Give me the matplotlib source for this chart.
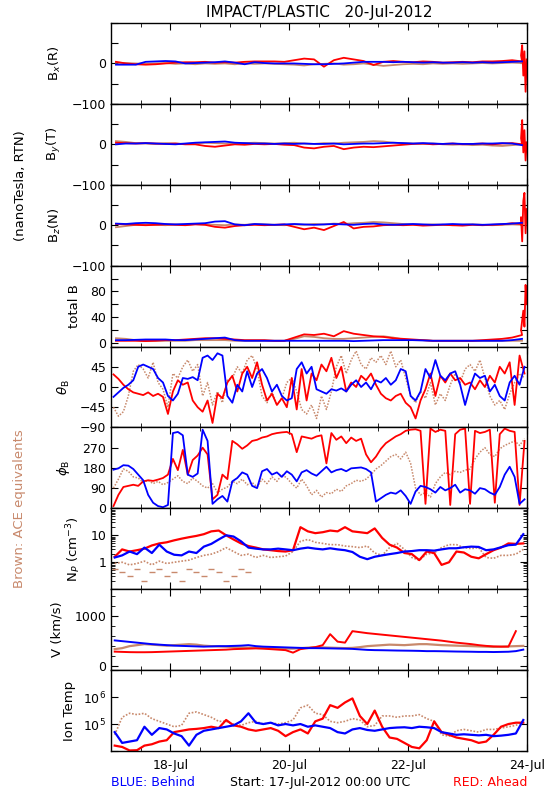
import numpy as np
import matplotlib
matplotlib.use("Agg")
import matplotlib.pyplot as plt
from matplotlib.ticker import FixedLocator, MultipleLocator, LogLocator, NullFormatter, NullLocator

RED = "#ff0000"
BLUE = "#0000ff"
BROWN = "#c8896c"

# x axis: days since 17-Jul-2012 00:00 UTC
day_ticks = [1, 3, 5, 7]
day_labels = ["18-Jul", "20-Jul", "22-Jul", "24-Jul"]

# ---- magnetic field, 4-hour samples (nT), one row per day ----
bx_red = [4, 0, -2, -3, -2, 0,
          2, 3, 3, 4, 2, 3,
          2, 4, 5, 5, 5, 4,
          8, 12, 10, -8, 8, 14,
          10, 6, -4, 4, 6, 4,
          3, 5, 4, 2, 3, 4,
          3, 5, 5, 6, 8, 5]
bx_red_tail = [20, 45, -30, 30, -70, 10]
bx_blue = [-3, -3, -3, 4, 5, 6,
           5, 0, 1, 2, 3, 5,
           2, -2, 3, 1, 0, 0,
           0, -1, -2, -2, -1, 0,
           2, 4, 4, 4, 3, 4,
           3, 2, 3, 2, 2, 3,
           2, 3, 2, 3, 4, 5]
bx_brown = [2, 1, 0, -1, 0, 1,
            -1, 0, -2, 0, -1, 0,
            -2, 0, -1, 0, -1, -2,
            -3, -5, -2, -1, 0, -3,
            -2, 0, -3, -6, -4, -2,
            -1, -2, 0, -1, 0, -1,
            0, 1, 0, 1, 2, 1]

by_red = [4, 3, 2, 3, 2, 1,
          2, 0, 0, -4, -6, -3,
          0, -1, 1, 0, 1, -1,
          -2, -8, -10, -6, -4, -12,
          -8, -6, -7, -5, -3, -1,
          1, 2, 0, 1, 2, 0,
          1, 2, 0, 2, 3, 0]
by_red_tail = [15, 60, -20, 35, -40, 5]
by_blue = [0, 2, 2, 3, 2, 1,
           0, 2, 4, 5, 6, 7,
           4, 3, 2, 2, 1, 2,
           1, 2, 1, 1, 2, 0,
           1, 2, 2, 3, 4, 3,
           2, 3, 2, 1, 2, 1,
           1, 2, 2, 3, 2, -2]
by_brown = [8, 6, 3, 2, 1, 3,
            2, 1, 2, 4, 3, 2,
            1, 3, 4, 3, 2, 3,
            4, 2, 1, 3, 2, 4,
            5, 6, 8, 7, 4, 3,
            2, 1, 2, 0, -1, 0,
            -2, -1, -3, -4, -2, 0]

bz_red = [3, 2, 1, 0, 1, 2,
          1, 0, 2, 1, -4, -6,
          -2, 0, 1, 0, 1, 2,
          -4, -10, -6, -12, -2, 8,
          -8, -4, -3, 0, 1, 0,
          1, -1, 0, 1, 0, -1,
          1, 0, 1, 2, 5, 3]
bz_red_tail = [20, -40, 60, 80, -20, 40]
bz_blue = [4, 3, 5, 6, 5, 3,
           2, 3, 4, 5, 9, 10,
           2, 0, 3, 2, 1, 2,
           3, 2, 1, 2, 3, 2,
           1, 3, 4, 2, 1, 2,
           3, 2, 1, 2, 3, 2,
           2, 1, 2, 3, 4, 6]
bz_brown = [-5, -2, 1, 2, 1, 0,
            2, 1, 3, 2, 1, 0,
            2, 1, 3, 2, 1, 0,
            2, 1, 3, 2, 4, 3,
            5, 6, 8, 7, 5, 3,
            2, 1, 2, 1, 0, 1,
            2, 1, 0, 1, 2, 1]

btot_red = [3, 3, 3, 2.5, 3, 4,
            4, 5, 6, 7, 7, 6,
            5, 4, 4, 4, 3, 3,
            8, 13, 12, 14, 10, 18,
            14, 12, 10, 9, 7, 6,
            5, 4, 3, 3, 3, 3,
            3, 4, 5, 6, 8, 12]
btot_red_tail = [20, 35, 50, 25, 90, 60]
btot_blue = [4, 4, 4.5, 5, 5, 5,
             4, 4, 5, 6, 7, 8,
             4, 3, 3, 3, 3, 3,
             3, 3, 3, 3, 3, 3,
             2.5, 3, 3.5, 4, 4, 4,
             4, 3.5, 3, 3, 3, 3,
             3, 3, 3, 3, 4, 6]
btot_brown = [7, 6, 4, 3, 3, 3,
              3, 3, 4, 4, 4, 4,
              3, 3, 3, 3, 3, 3,
              6, 10, 9, 7, 6, 6,
              7, 8, 9, 10, 8, 5,
              4, 4, 3, 3, 3, 3,
              3, 3, 3, 3, 3, 3]

# ---- field angles, 2-hour samples (deg), one row per day ----
theta_red = [28, 18, 5, -5, -12, -15, -18, -12, -20, -15, -22, -60,
             -10, 15, 5, 10, -30, -45, -55, -30, -80, -15, -25, 10,
             25, -10, 30, 45, 20, 55, 5, -30, -15, -40, -25, -45,
             20, -50, 40, -30, 30, 15, 50, 35, 65, 20, 45, -10,
             10, 0, 25, 15, 30, 5, -15, -25, -30, -20, -15, -35,
             -45, -70, -30, -5, 30, -20, 25, 10, 30, 15, 20, 5,
             10, -5, 15, 0, 25, 10, 45, 30, 55, -40, 70, 30]
theta_blue = [-22, -12, -2, 5, 15, 45, 50, 45, 40, 20, 10, -20,
              -30, -15, 20, 18, 22, 15, 65, 70, 60, 75, 70, -20,
              -35, 5, -10, 35, 0, 30, 40, 20, -10, 5, -20, -30,
              -25, 40, 55, 30, 45, -5, -10, -15, -5, -8, -3, -10,
              5, 15, 0, 10, -5, 15, 10, 20, 5, 15, 40, 35,
              -20, -30, -10, 40, 20, 60, 25, 15, 30, 35, 5, -40,
              0, 30, 20, 25, -10, 5, -20, -30, 10, 25, 5, 45]
theta_brown = [-45, -65, -55, -20, 35, 50, 40, 20, 55, 10, -5, -45,
               30, 20, 45, 60, 35, 50, -20, 10, -40, -10, -35, 15,
               20, 45, 30, 60, 70, 40, -20, -35, -10, -40, -25, 10,
               20, -10, -50, -60, -40, -70, -20, -50, -10, 45, 70, 30,
               60, 80, 50, 40, 65, 55, 70, 50, 80, 45, 60, 20,
               -20, -35, -10, -25, 10, -40, -15, -30, 5, 30, 10, 40,
               50, 35, 60, 20, -20, -40, -30, -50, -15, 10, 30, 20]

phi_red = [10, 60, 95, 100, 105, 100, 120, 125, 122, 128, 135, 150,
           220, 170, 260, 150, 215, 235, 270, 240, 40, 60, 150, 130,
           300, 285, 265, 280, 300, 305, 315, 320, 330, 335, 338, 340,
           330, 250, 320, 315, 310, 320, 325, 200, 335, 305, 320, 290,
           315, 300, 310, 240, 205, 230, 265, 290, 305, 320, 330, 345,
           350, 352, 345, 20, 355, 340, 350, 345, 15, 330, 350, 355,
           20, 345, 335, 340, 350, 25, 330, 355, 345, 340, 15, 300]
phi_blue = [172, 178, 192, 190, 175, 150, 125, 60, 25, 10, 5, 15,
            335, 340, 325, 150, 140, 155, 350, 300, 20, 40, 55, 30,
            120, 135, 160, 150, 100, 90, 165, 175, 150, 160, 140, 165,
            150, 120, 160, 170, 155, 145, 165, 185, 160, 170, 175, 165,
            178, 180, 182, 175, 160, 30, 45, 60, 70, 65, 80, 55,
            20, 75, 100, 95, 85, 70, 95, 80, 90, 105, 70, 85,
            80, 65, 90, 85, 70, 60, 95, 150, 185, 140, 20, 40]
phi_brown = [90, 130, 175, 165, 140, 135, 115, 125, 110, 120, 105, 115,
             130, 145, 120, 110, 135, 120, 100, 90, 110, 70, 85, 95,
             120, 110, 130, 105, 115, 95, 130, 110, 140, 120, 150, 135,
             110, 90, 130, 100, 60, 80, 50, 70, 65, 85, 75, 100,
             110, 125, 120, 130, 150, 175, 190, 210, 230, 240, 220, 250,
             200, 90, 60, 70, 50, 110, 140, 160, 150, 165, 160, 170,
             175, 220, 250, 270, 240, 230, 265, 280, 290, 300, 280, 310]

# ---- plasma, 3-hour samples, one row per day ----
np_red = [1.6, 3.0, 2.5, 2.8, 3.2, 4.2, 5.0, 5.5,
          6.5, 7.5, 8.5, 9.5, 11, 14, 15, 10,
          7, 5, 4, 3.5, 3, 2.8, 2.6, 2.5,
          2.8, 20, 14, 12, 13, 15, 14, 20,
          14, 13, 12, 18, 8, 4.5, 3.5, 2.2,
          2.0, 1.2, 2.5, 2.2, 0.8, 1.0, 2.5, 2.3,
          1.6, 1.4, 2.0, 2.8, 3.5, 5.0, 4.8, 5.0]
np_blue = [1.5, 1.8, 2.5, 2.0, 3.5, 2.2, 4.5, 2.5,
           1.9, 1.8, 2.5, 2.2, 3.8, 4.8, 7, 10,
           9, 6, 3.5, 3.2, 3.0, 3.0, 3.2, 3.0,
           2.8, 3.2, 3.5, 3.2, 3.0, 3.3, 3.0, 2.8,
           2.4, 1.6, 1.3, 1.6, 1.8, 2.0, 2.2, 2.5,
           2.6, 2.8, 2.8, 2.7, 3.0, 3.3, 3.3, 3.6,
           3.8, 3.7, 2.8, 3.0, 3.6, 4.3, 4.5, 11]
np_brown = [0.9, 1.0, 0.8, 0.9, 1.1, 0.8, 1.1, 0.9,
            1.0, 1.1, 1.2, 1.5, 1.8, 2.0, 2.5, 3.5,
            2.5, 1.8, 2.0, 1.5, 1.8, 1.5, 1.6, 1.7,
            2.5, 6, 7, 5.5, 5, 4.5, 4.5, 4.0,
            3.8, 3.5, 4.0, 2.2, 1.8, 3.5, 5, 3,
            1.5, 1.2, 2.0, 2.2, 3.5, 4.5, 4.5, 3.5,
            3.2, 3.5, 1.5, 1.4, 1.8, 1.8, 2.0, 3.0]
np_brown_low = [0.56, 0.43, 0.31, 0.56, 0.2, 0.43, 0.56, 0.31, 0.43, 0.2,
                0.56, 0.43, 0.31, 0.56, 0.43, 0.2, 0.31, 0.56, 0.43]

v_red = [290, 285, 280, 278, 278, 280, 285, 290,
         295, 300, 305, 310, 315, 320, 325, 330,
         340, 345, 350, 355, 350, 340, 330, 320,
         270, 340, 360, 380, 420, 640, 490, 470,
         700, 680, 660, 645, 630, 615, 600, 585,
         570, 555, 540, 525, 510, 490, 470, 455,
         440, 420, 405, 395, 390, 390, 700, np.nan]
v_blue = [515, 500, 485, 470, 455, 440, 430, 420,
          410, 405, 400, 395, 390, 395, 400, 400,
          405, 410, 420, 400, 390, 385, 380, 375,
          370, 365, 360, 360, 358, 355, 352, 350,
          345, 335, 325, 320, 318, 315, 312, 310,
          308, 305, 300, 300, 298, 295, 292, 290,
          288, 285, 285, 282, 285, 288, 300, 330]
v_brown = [340, 360, 400, 420, 440, 430, 420, 410,
           420, 430, 440, 430, 410, 400, 395, 390,
           380, 375, 370, 365, 360, 360, 355, 350,
           350, 360, 370, 380, 375, 370, 365, 360,
           365, 380, 400, 410, 420, 430, 425, 420,
           430, 440, 440, 430, 420, 415, 410, 405,
           400, 395, 390, 385, 390, 395, 400, 405]

# ion temperature, log10(K)
temp_red_log = [4.2, 4.15, 4.02, 4.03, 4.2, 4.25, 4.35, 4.4,
                4.7, 4.75, 4.8, 4.82, 4.85, 4.9, 4.85, 5.15,
                4.95, 4.9, 4.8, 4.75, 4.8, 4.85, 4.75, 4.55,
                4.7, 4.8, 4.65, 5.1, 5.2, 5.7, 5.6, 5.8,
                5.95, 5.3, 5.0, 5.5, 4.9, 4.5, 4.45, 4.3,
                4.15, 4.1, 4.4, 5.1, 4.7, 4.6, 4.5, 4.45,
                4.4, 4.3, 4.35, 4.6, 4.9, 5.0, 5.05, 5.05]
temp_blue_log = [4.7, 4.3, 4.35, 4.4, 4.9, 4.6, 4.85, 4.8,
                 4.65, 4.55, 4.2, 4.6, 4.75, 4.8, 4.85, 4.9,
                 4.95, 5.1, 5.4, 5.05, 5.0, 5.05, 4.95, 5.0,
                 4.95, 5.0, 4.9, 4.95, 4.9, 4.85, 4.7, 4.65,
                 4.8, 4.85, 4.78, 4.75, 4.8, 4.85, 4.87, 4.88,
                 4.85, 4.9, 4.88, 4.85, 4.7, 4.65, 4.6, 4.62,
                 4.6, 4.58, 4.6, 4.55, 4.57, 4.6, 4.65, 5.15]
temp_brown_log = [4.6, 5.25, 5.4, 5.35, 5.4, 5.2, 5.1, 5.0,
                  4.9, 4.95, 5.4, 5.45, 5.35, 5.25, 5.1, 5.1,
                  5.0, 4.95, 5.05, 5.1, 5.0, 5.05, 5.0, 5.05,
                  5.15, 5.6, 5.7, 5.4, 5.35, 5.1, 5.05, 5.1,
                  5.2, 5.15, 4.9, 4.95, 5.3, 5.3, 5.25, 5.3,
                  5.3, 5.35, 5.2, 5.1, 4.6, 4.55, 4.75, 4.8,
                  4.75, 4.7, 4.8, 4.8, 4.85, 4.9, 4.95, 5.1]

# sample times (days)
t_2h = (np.arange(84) + 0.5) / 12
t_3h = (np.arange(56) + 0.5) / 8
t_4h = (np.arange(42) + 0.5) / 6
t_tail = np.linspace(6.90, 6.995, 6)

plt.rcParams["font.family"] = ["DejaVu Sans"]
plt.rcParams["mathtext.fontset"] = "dejavusans"
plt.rcParams["axes.linewidth"] = 1.0

fig, axes = plt.subplots(9, 1, figsize=(5.5, 8), dpi=100, sharex=True,
                         gridspec_kw=dict(hspace=0))
fig.subplots_adjust(left=111 / 550, right=527 / 550, top=1 - 23 / 800, bottom=1 - 751 / 800)
ax_bx, ax_by, ax_bz, ax_bt, ax_th, ax_ph, ax_np, ax_v, ax_t = axes

M = "\u2212"

# field components
for ax, brown, red, tail, blue in [(ax_bx, bx_brown, bx_red, bx_red_tail, bx_blue),
                                   (ax_by, by_brown, by_red, by_red_tail, by_blue),
                                   (ax_bz, bz_brown, bz_red, bz_red_tail, bz_blue)]:
    ax.plot(t_4h, brown, color=BROWN, lw=1.3)
    ax.plot(np.r_[t_4h, t_tail], np.r_[red, tail], color=RED, lw=1.3)
    ax.plot(t_4h, blue, color=BLUE, lw=1.3)
    ax.set_ylim(-100, 100)
    ax.set_yticks([-100, -50, 0, 50, 100], labels=[M + "100", "", "0", "", ""])

ax_bt.plot(t_4h, btot_brown, color=BROWN, lw=1.3)
ax_bt.plot(np.r_[t_4h, t_tail], np.r_[btot_red, btot_red_tail], color=RED, lw=1.3)
ax_bt.plot(t_4h, btot_blue, color=BLUE, lw=1.3)
ax_bt.set_ylim(-6, 120)
ax_bt.set_yticks([0, 20, 40, 60, 80, 100, 120], labels=["0", "", "40", "", "80", "", ""])

# angles
ax_th.plot(t_2h, theta_brown, color=BROWN, lw=1.1, ls=(0, (1, 1)))
ax_th.plot(t_2h, theta_red, color=RED, lw=1.3)
ax_th.plot(t_2h, theta_blue, color=BLUE, lw=1.3)
ax_th.set_ylim(-90, 90)
ax_th.set_yticks([-90, -45, 0, 45, 90], labels=[M + "90", M + "45", "0", "45", ""])

ax_ph.plot(t_2h, phi_brown, color=BROWN, lw=1.1, ls=(0, (1, 1)))
ax_ph.plot(t_2h, phi_red, color=RED, lw=1.3)
ax_ph.plot(t_2h, phi_blue, color=BLUE, lw=1.3)
ax_ph.set_ylim(0, 360)
ax_ph.set_yticks([0, 90, 180, 270, 360], labels=["0", "90", "180", "270", ""])

# density
ax_np.plot(t_3h, np_brown, color=BROWN, lw=1.2, ls=(0, (1, 1)))
ax_np.plot(t_3h[:len(np_brown_low)], np_brown_low, color=BROWN, ls="none",
           marker="_", ms=5, mew=1)
ax_np.plot(t_3h, np_red, color=RED, lw=1.6)
ax_np.plot(t_3h, np_blue, color=BLUE, lw=1.6)
ax_np.set_yscale("log")
ax_np.set_ylim(0.1, 100)
ax_np.set_yticks([0.1, 1, 10, 100], labels=["", "1", "10", ""])
ax_np.yaxis.set_minor_locator(LogLocator(base=10, subs=np.arange(2, 10)))
ax_np.yaxis.set_minor_formatter(NullFormatter())

# speed
ax_v.plot(t_3h, v_brown, color=BROWN, lw=1.6)
ax_v.plot(t_3h, v_red, color=RED, lw=1.4)
ax_v.plot(t_3h, v_blue, color=BLUE, lw=1.4)
ax_v.set_ylim(-80, 1540)
ax_v.set_yticks([0, 1000], labels=["0", "1000"])
ax_v.yaxis.set_minor_locator(MultipleLocator(200))

# temperature
ax_t.plot(t_3h, 10 ** np.array(temp_brown_log), color=BROWN, lw=1.2, ls=(0, (1, 1)))
ax_t.plot(t_3h, 10 ** np.array(temp_red_log), color=RED, lw=1.6)
ax_t.plot(t_3h, 10 ** np.array(temp_blue_log), color=BLUE, lw=1.6)
ax_t.set_yscale("log")
ax_t.set_ylim(1e4, 1e7)
ax_t.set_yticks([1e4, 1e5, 1e6, 1e7], labels=["", r"10$^5$", r"10$^6$", ""])
ax_t.yaxis.set_minor_locator(NullLocator())

for ax in axes:
    ax.set_xlim(0, 7)
    ax.xaxis.set_major_locator(FixedLocator(day_ticks))
    ax.xaxis.set_minor_locator(MultipleLocator(0.5))
    ax.tick_params(which="both", direction="in", top=True, right=True, labelsize=9)
    ax.tick_params(which="major", length=5)
    ax.tick_params(which="minor", length=3)
ax_t.set_xticks(day_ticks, labels=day_labels)
ax_t.tick_params(axis="x", pad=6)

ylabels = [(ax_bx, r"B$_x$(R)", -0.115), (ax_by, r"B$_y$(T)", -0.115),
           (ax_bz, r"B$_z$(N)", -0.115), (ax_bt, "total B", -0.072),
           (ax_th, r"$\theta_{\rm B}$", -0.094), (ax_ph, r"$\phi_{\rm B}$", -0.094),
           (ax_np, r"N$_P$ (cm$^{-3}$)", -0.067), (ax_v, "V (km/s)", -0.115),
           (ax_t, "Ion Temp", -0.084)]
for ax, text, xpos in ylabels:
    ax.set_ylabel(text, fontsize=9.5)
    ax.yaxis.set_label_coords(xpos, 0.5)

fig.text(0.58, 0.985, "IMPACT/PLASTIC   20-Jul-2012", ha="center", va="center", fontsize=11)
fig.text(0.038, 0.7675, "(nanoTesla, RTN)", rotation=90, ha="center", va="center", fontsize=9.5)
fig.text(0.036, 0.364, "Brown: ACE equivalents", rotation=90, ha="center", va="center",
         fontsize=9.5, color=BROWN)
fig.text(111 / 550, 0.022, "BLUE: Behind", ha="left", va="center", fontsize=9, color=BLUE)
fig.text(0.582, 0.022, "Start: 17-Jul-2012 00:00 UTC", ha="center", va="center", fontsize=9)
fig.text(527 / 550, 0.022, "RED: Ahead", ha="right", va="center", fontsize=9, color=RED)

fig.savefig("out.png", dpi=100)
